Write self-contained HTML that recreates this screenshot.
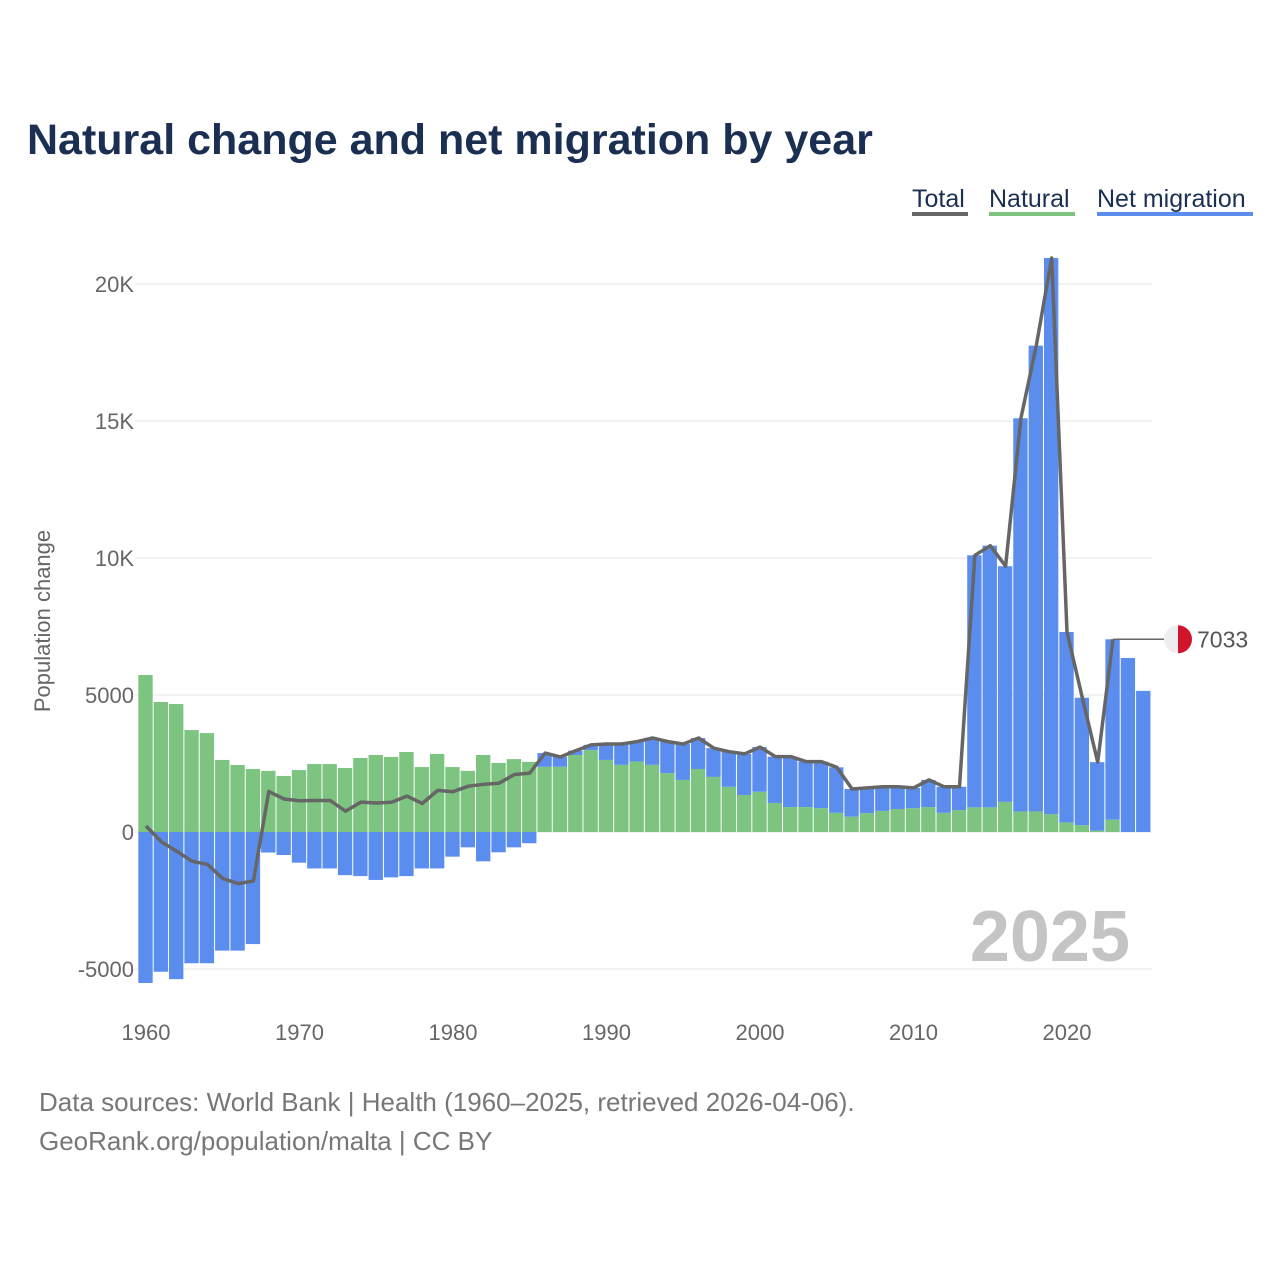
<!DOCTYPE html>
<html><head><meta charset="utf-8"><style>
body{margin:0;background:#fff;font-family:"Liberation Sans",sans-serif;}
#wrap{position:relative;width:1280px;height:1280px;}
</style></head><body>
<div id="wrap">
<svg id="chart" width="1280" height="1280"></svg>
</div>
<script>
const years = [];
for (let y = 1960; y <= 2025; y++) years.push(y);
const naturalVals = [5730,4745,4670,3720,3610,2630,2445,2300,2230,2045,2260,2480,2480,2335,2700,2810,2740,2920,2370,2850,2370,2230,2810,2520,2660,2560,
2380,2380,2810,2990,2630,2450,2570,2450,2150,1900,2300,2010,1650,1350,1470,1060,910,910,870,700,560,690,770,840,870,910,700,800,
900,900,1100,750,750,650,350,250,50,450,0,0];
const totalVals = [220,-355,-700,-1070,-1180,-1700,-1885,-1790,1480,1205,1140,1150,1150,760,1090,1060,1085,1310,1040,1520,1470,1670,1740,1780,2100,2150,
2880,2740,2970,3180,3210,3210,3300,3430,3300,3210,3430,3060,2930,2850,3100,2750,2750,2570,2570,2360,1570,1610,1650,1650,1610,1900,1650,1650,
10100,10450,9700,15100,17750,20950,7300,4900,2550,7033,6350,5150];
const lineEndYear = 2023;
const yTicks = [-5000,0,5000,10000,15000,20000];
const yTickLabels = ["-5000","0","5000","10K","15K","20K"];
const xTicks = [1960,1970,1980,1990,2000,2010,2020];

const NS="http://www.w3.org/2000/svg";
const svg=document.getElementById('chart');
function X(yr){return 146+(yr-1960)*15.35;}
function Y(v){return 832-v*0.0274;}
function mk(tag,attrs,parent){const e=document.createElementNS(NS,tag);for(const k in attrs)e.setAttribute(k,attrs[k]);(parent||svg).appendChild(e);return e;}

let t=mk('text',{x:27,y:154,'font-size':43,'font-weight':'bold',fill:'#1b2f52'});t.textContent='Natural change and net migration by year';



const leg=[['Total',912,968,'#666'],['Natural',989,1075,'#7cc47f'],['Net migration',1097,1253,'#5b8def']];
leg.forEach(l=>{
  const g=mk('g',{});
  
  
  const tx=mk('text',{x:l[1],y:207,'font-size':25,fill:'#1b2f52'},g);tx.textContent=l[0];
  mk('rect',{x:l[1],y:212,width:l[2]-l[1],height:4,fill:l[3]},g);
});

yTicks.forEach((v,i)=>{
  const ln=mk('line',{x1:135,x2:1152,y1:Y(v),y2:Y(v),stroke:'#e6e6e6','stroke-width':1});
  
  
  const tx=mk('text',{x:134,y:Y(v)+8,'font-size':22,fill:'#666','text-anchor':'end'});tx.textContent=yTickLabels[i];
  
  
});
xTicks.forEach(yr=>{
  const tx=mk('text',{x:X(yr),y:1040,'font-size':22,fill:'#666','text-anchor':'middle'});tx.textContent=yr;
  
  
});
let yt=mk('text',{x:0,y:0,'font-size':22,fill:'#666','text-anchor':'middle',transform:'translate(50,621) rotate(-90)'});yt.textContent='Population change';



let wy=mk('text',{x:1130,y:961,'font-size':72,'font-weight':'bold',fill:'#c4c4c4','text-anchor':'end'});wy.textContent='2025';



const bw=15.35;
years.forEach((yr,i)=>{
  const nat=naturalVals[i], mig=totalVals[i]-naturalVals[i];
  const x0=X(yr)-bw/2;
  const nb=mk('rect',{x:x0,y:Y(Math.max(nat,0)),width:bw-1,height:Math.abs(Y(0)-Y(nat)),fill:'#7cc47f'});
  
  
  let top,bot;
  if(mig>=0){top=Y(nat+mig);bot=Y(nat);}else{top=Y(0);bot=Y(mig);}
  const mb=mk('rect',{x:x0,y:top,width:bw-1,height:bot-top,fill:'#5b8def'});
  
  
});

let d='';years.forEach((yr,i)=>{if(yr>lineEndYear)return;d+=(i?'L':'M')+X(yr).toFixed(1)+' '+Y(totalVals[i]).toFixed(1);});
const pl=mk('path',{d:d,fill:'none',stroke:'#666','stroke-width':3.5,'stroke-linejoin':'round'});



const li=years.indexOf(lineEndYear);
const ly=Y(totalVals[li]);
const cl=mk('line',{x1:X(lineEndYear),x2:1165,y1:ly,y2:ly,stroke:'#666','stroke-width':1.5});


const fl=mk('g',{});


mk('path',{d:`M1178 ${ly-14} A14 14 0 0 0 1178 ${ly+14} Z`,fill:'#eee'},fl);
mk('path',{d:`M1178 ${ly-14} A14 14 0 0 1 1178 ${ly+14} Z`,fill:'#cf142b'},fl);
const vl=mk('text',{x:1197,y:ly+8,'font-size':23,fill:'#555'});vl.textContent=totalVals[li];



const f1=mk('text',{x:39,y:1111,'font-size':26,fill:'#777'});f1.textContent='Data sources: World Bank | Health (1960–2025, retrieved 2026-04-06).';


const f2=mk('text',{x:39,y:1150,'font-size':26,fill:'#777'});f2.textContent='GeoRank.org/population/malta | CC BY';


</script>
</body></html>
